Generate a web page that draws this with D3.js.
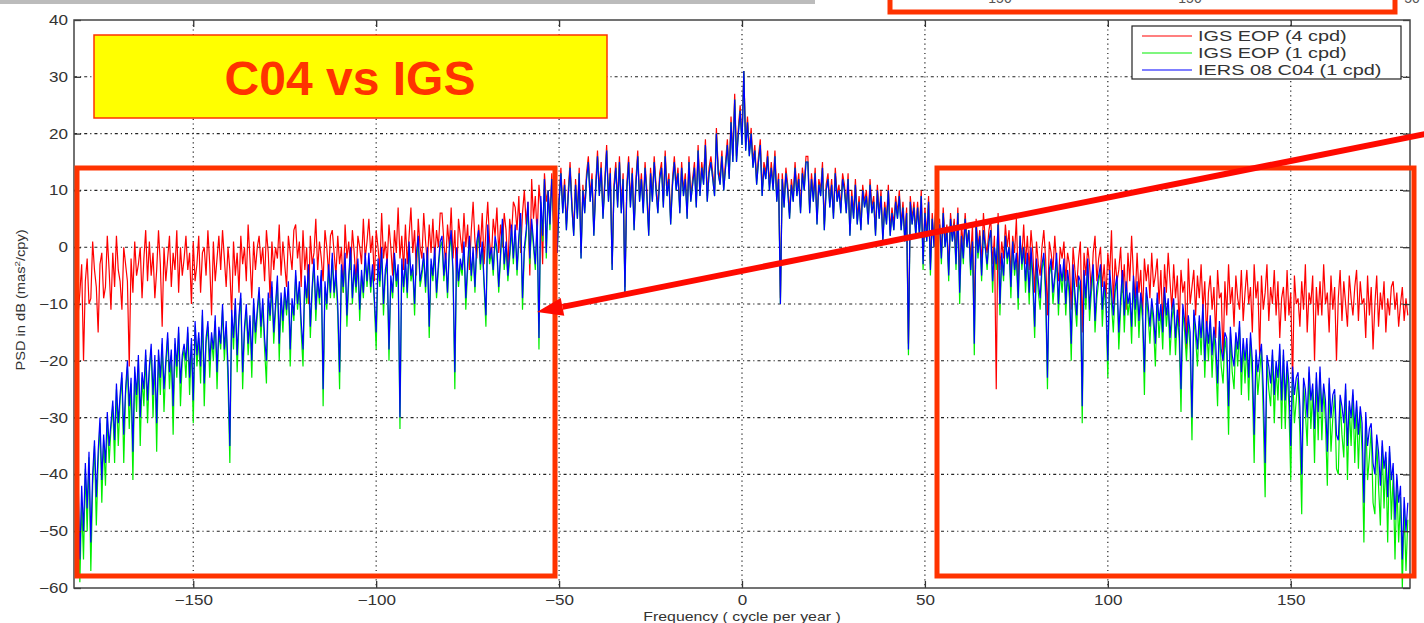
<!DOCTYPE html>
<html>
<head>
<meta charset="utf-8">
<script src="https://cdn.jsdelivr.net/npm/d3@7"></script>
<style>
  body { margin: 0; background: #fff; }
  svg { display: block; }
  text { font-family: "Liberation Sans", Arial, sans-serif; }
</style>
</head>
<body>
<svg id="chart"></svg>
<script>
// PSD spectra, one value every 0.5 cpy from -182 cpy
const freqStart = -182;
const freqStep = 0.5;

// IGS EOP (4 cpd) - red
const igs4 = [
  -5,-12,-8,-3,-20,-6,-2,-10,-9,1,-4,-7,-15,-3,-1,-9,-7,2,-4,-11,
  -1,-7,2,-4,-6,-11,0,-3,-6,-21,-2,-8,1,-5,-3,0,-9,-2,3,-6,
  1,-5,-1,-9,-4,3,-3,-14,0,-6,-2,2,-7,-1,-4,3,-8,0,-5,-2,
  2,-4,-1,-10,1,-6,-3,2,-8,-1,0,-5,3,-3,-12,1,-6,-2,2,-4,
  3,-2,-7,0,-4,-12,1,-5,-1,-8,2,-3,0,-6,4,-2,-9,1,-4,0,
  2,-3,0,-6,3,-1,-9,1,-4,0,-2,4,-5,1,-3,-7,2,-1,-4,3,
  4,-2,1,-7,3,-4,0,-10,2,-3,-1,5,-4,1,-2,-6,3,0,-5,2,
  3,-1,-5,2,-3,0,-8,4,-2,1,-4,3,-1,-6,2,0,-3,5,-2,1,
  5,-1,2,-6,3,0,-4,6,-2,1,-3,4,0,-5,3,-1,7,-2,2,-4,
  4,-3,2,7,-1,3,-5,5,0,-2,6,1,-3,4,-1,5,-2,3,0,6,
  6,1,-3,4,0,7,-2,3,-6,5,2,-1,6,0,4,-4,3,8,1,-2,
  4,0,6,-3,3,8,1,-2,5,2,7,-1,4,0,6,3,-4,5,2,8,
  7,3,9,-1,6,10,4,8,-5,12,5,9,2,11,7,-3,13,8,10,5,
  13,5,11,1,9,14,7,12,4,10,15,8,3,12,6,14,-1,11,7,13,
  16,9,13,3,11,17,10,15,6,12,18,9,14,-3,11,15,8,16,7,13,
  -7,11,16,8,14,4,12,17,9,13,7,15,10,3,14,9,16,11,7,13,
  15,8,17,10,13,5,12,16,11,14,7,15,10,13,6,16,9,12,15,8,
  18,10,15,12,19,9,14,16,13,10,21,14,12,17,11,15,19,13,23,16,
  27,16,21,25,19,31,18,23,17,21,15,18,12,16,19,10,15,13,17,11,
  15,11,17,9,13,-9,13,8,14,11,6,12,9,15,10,13,7,14,11,16,
  16,7,13,9,14,5,12,10,15,4,11,13,8,12,6,14,9,11,7,13,
  11,7,13,3,10,6,12,5,9,4,11,8,10,5,12,7,9,3,11,6,
  10,2,8,5,11,3,7,4,9,6,10,4,8,2,7,-17,9,5,8,3,
  8,3,10,-2,7,2,9,-3,6,1,8,4,5,-1,7,1,4,-4,6,2,
  5,-1,7,-5,4,0,6,1,3,-2,4,-12,5,0,3,-3,6,1,-1,3,
  5,-3,2,-25,6,-4,1,-2,4,0,3,-5,2,-1,5,-6,1,-2,4,-3,
  2,-4,3,-1,-8,1,-3,-5,0,3,-2,-12,1,-1,-4,2,-3,-6,0,-2,
  1,-6,-1,-3,-11,0,-4,-7,-2,1,-15,-1,-5,0,-3,-8,-1,2,-6,-2,
  0,-7,-3,-9,-1,-5,3,-10,-2,-6,-4,0,-8,-3,-11,-1,-6,2,-5,-9,
  -1,-8,-4,-12,-2,-6,-3,-9,-1,-7,-5,-2,-10,-4,-14,-3,-8,-1,-6,-11,
  -3,-9,-5,-14,-4,-8,-6,-18,-2,-10,-7,-4,-12,-5,-9,-3,-11,-6,-16,-8,
  -5,-11,-7,-16,-4,-9,-8,-20,-6,-12,-3,-10,-7,-14,-5,-9,-11,-4,-13,-8,
  -4,-10,-7,-15,-3,-9,-6,-19,-5,-11,-8,-3,-13,-7,-10,-4,-12,-6,-16,-9,
  -7,-13,-4,-12,-8,-24,-5,-10,-9,-14,-6,-11,-3,-15,-8,-10,-5,-20,-7,-12,
  -6,-12,-3,-10,-8,-15,-5,-11,-7,-20,-9,-4,-13,-6,-10,-14,-5,-9,-12,-7,
  -4,-13,-6,-10,-9,-16,-5,-12,-7,-18,-10,-5,-14,-8,-11,-6,-15,-9,-12,-7,
  -6,-11,-8,-14,-10,-7,-13,-9,-12
];

// IGS EOP (1 cpd) - green (hidden under blue except the deeper dips)
const igs1 = [
  -51,-41,-59,-45,-55,-39,-50,-37,-57,-42,-35,-49,-38,-31,-45,-34,-42,-30,-38,-32,
  -28,-38,-25,-35,-27,-23,-38,-26,-21,-32,-24,-41,-22,-29,-20,-35,-23,-28,-19,-31,
  -22,-18,-30,-20,-36,-19,-26,-17,-29,-21,-16,-25,-19,-33,-17,-23,-15,-28,-20,-18,
  -23,-15,-26,-17,-31,-14,-21,-16,-24,-12,-28,-17,-14,-23,-16,-20,-13,-25,-15,-18,
  -11,-20,-14,-24,-38,-12,-18,-10,-22,-13,-9,-25,-15,-11,-19,-13,-23,-10,-17,-12,
  -8,-16,-10,-18,-24,-9,-13,-7,-17,-11,-6,-20,-9,-15,-8,-12,-7,-21,-10,-13,
  -5,-11,-7,-15,-21,-6,-10,-4,-16,-8,-3,-13,-6,-10,-5,-28,-7,-11,-4,-9,
  -2,-9,-5,-12,-25,-4,-8,-2,-14,-6,-1,-10,-4,-8,-3,-13,-5,-9,-2,-7,
  -2,-8,-4,-10,-18,-3,-7,-1,-12,-5,-3,-20,-6,-9,-2,-7,-4,-32,-3,-8,
  -3,-9,0,-6,-4,-12,-2,1,-7,-5,-2,-8,-1,-16,-3,-6,-1,-9,-4,0,
  1,-6,-2,-9,-1,2,-5,-25,-1,-7,-3,-5,0,-11,-4,1,-6,-1,-8,0,
  2,-4,0,-7,-14,3,-3,-1,-5,1,-1,-8,-2,4,-4,0,-6,-2,3,-3,
  3,-5,1,5,-11,-1,2,7,-3,4,0,-4,4,-18,8,1,12,-2,10,3,
  12,4,10,-1,8,13,6,11,3,9,14,7,2,11,5,13,-2,10,6,12,
  15,8,12,2,10,16,9,14,5,11,17,8,13,-4,10,14,7,15,6,12,
  -8,10,15,7,13,3,11,16,8,12,6,14,9,2,13,8,15,10,6,12,
  14,7,16,9,12,4,11,15,10,13,6,14,9,12,5,15,8,11,14,7,
  17,9,14,11,18,8,13,15,12,9,20,13,11,16,10,14,18,12,22,15,
  26,15,20,24,18,31,17,22,16,20,14,17,11,15,18,9,14,12,16,10,
  14,10,16,8,12,-10,12,7,13,10,5,11,8,14,9,12,6,13,10,15,
  15,6,12,8,13,4,11,9,14,3,10,12,7,11,5,13,8,10,6,12,
  10,6,12,2,9,5,11,4,8,3,10,7,9,4,11,6,8,2,10,5,
  9,1,7,4,10,2,6,3,8,5,9,3,7,1,6,-19,8,4,7,2,
  7,2,9,-4,6,1,8,-5,5,0,7,3,4,-3,6,0,3,-6,5,1,
  4,-4,6,-10,2,-3,5,0,3,-5,1,-19,4,-2,2,-6,3,0,-4,1,
  3,-8,0,-4,4,-12,-2,-6,2,-3,0,-9,1,-5,-2,-11,2,-4,0,-8,
  -2,-10,-1,-7,-16,-3,-8,-11,-4,-2,-9,-25,-5,-3,-10,-6,-2,-12,-4,-8,
  -3,-12,-5,-9,-20,-4,-10,-14,-6,-8,-31,-5,-11,-3,-13,-8,-4,-15,-9,-6,
  -4,-14,-7,-11,-23,-5,-10,-15,-8,-6,-18,-11,-5,-15,-7,-12,-9,-17,-6,-14,
  -7,-16,-9,-13,-26,-8,-12,-17,-10,-14,-21,-9,-16,-11,-18,-8,-14,-10,-19,-13,
  -10,-19,-12,-16,-29,-11,-15,-20,-13,-18,-34,-12,-16,-21,-13,-19,-11,-23,-14,-20,
  -13,-23,-15,-20,-28,-14,-21,-24,-16,-19,-33,-15,-22,-25,-16,-21,-14,-26,-17,-24,
  -17,-27,-16,-24,-38,-19,-26,-22,-18,-30,-44,-20,-25,-28,-19,-31,-21,-27,-18,-32,
  -19,-32,-21,-28,-41,-22,-31,-27,-23,-33,-47,-24,-29,-35,-22,-32,-25,-38,-23,-34,
  -22,-34,-25,-31,-42,-24,-36,-30,-26,-39,-40,-27,-33,-37,-25,-41,-28,-35,-26,-38,
  -28,-39,-29,-36,-52,-30,-41,-37,-32,-45,-47,-34,-42,-49,-35,-46,-37,-52,-36,-48,
  -40,-55,-41,-52,-44,-60,-46,-57,-48
];

// IERS 08 C04 (1 cpd) - blue
const c04 = [
  -48,-40,-55,-42,-50,-38,-46,-36,-52,-40,-34,-44,-36,-30,-41,-33,-38,-29,-35,-31,
  -27,-34,-24,-31,-26,-22,-33,-25,-20,-28,-23,-36,-21,-26,-19,-30,-22,-25,-18,-27,
  -21,-17,-26,-19,-31,-18,-23,-16,-25,-20,-15,-22,-18,-28,-16,-21,-14,-24,-19,-17,
  -20,-14,-23,-16,-27,-13,-19,-15,-21,-11,-24,-16,-13,-20,-15,-18,-12,-22,-14,-17,
  -10,-18,-13,-21,-35,-11,-16,-9,-19,-12,-8,-22,-14,-10,-17,-12,-20,-9,-15,-11,
  -7,-14,-9,-16,-20,-8,-12,-6,-15,-10,-5,-17,-8,-13,-7,-11,-6,-18,-9,-12,
  -4,-10,-6,-13,-18,-5,-9,-3,-14,-7,-2,-11,-5,-9,-4,-25,-6,-10,-3,-8,
  -1,-8,-4,-10,-22,-3,-7,-1,-12,-5,0,-9,-3,-7,-2,-11,-4,-8,-1,-6,
  -1,-7,-3,-9,-15,-2,-6,0,-10,-4,-2,-18,-5,-8,-1,-6,-3,-30,-2,-7,
  -2,-8,1,-5,-3,-10,-1,2,-6,-4,-1,-7,0,-14,-2,-5,0,-8,-3,1,
  2,-5,-1,-8,0,3,-4,-22,0,-6,-2,-4,1,-9,-3,2,-5,0,-7,1,
  3,-3,1,-6,-12,4,-2,0,-4,2,0,-7,-1,5,-3,1,-5,-1,4,-2,
  4,-4,2,6,-9,0,3,8,-2,5,1,-3,5,-16,9,2,12,-1,10,4,
  12,4,10,-1,8,13,6,11,3,9,14,7,2,11,5,13,-2,10,6,12,
  15,8,12,2,10,16,9,14,5,11,17,8,13,-4,10,14,7,15,6,12,
  -8,10,15,7,13,3,11,16,8,12,6,14,9,2,13,8,15,10,6,12,
  14,7,16,9,12,4,11,15,10,13,6,14,9,12,5,15,8,11,14,7,
  17,9,14,11,18,8,13,15,12,9,20,13,11,16,10,14,18,12,22,15,
  26,15,20,24,18,31,17,22,16,20,14,17,11,15,18,9,14,12,16,10,
  14,10,16,8,12,-10,12,7,13,10,5,11,8,14,9,12,6,13,10,15,
  15,6,12,8,13,4,11,9,14,3,10,12,7,11,5,13,8,10,6,12,
  10,6,12,2,9,5,11,4,8,3,10,7,9,4,11,6,8,2,10,5,
  9,1,7,4,10,2,6,3,8,5,9,3,7,1,6,-18,8,4,7,2,
  7,2,9,-3,6,1,8,-4,5,0,7,3,4,-2,6,0,3,-5,5,1,
  4,-3,6,-8,2,-2,5,0,3,-4,1,-17,4,-1,2,-5,3,0,-3,1,
  3,-6,0,-3,4,-10,-1,-5,2,-2,0,-7,1,-4,-1,-9,2,-3,0,-6,
  -1,-8,0,-5,-14,-2,-6,-9,-3,-1,-7,-23,-4,-2,-8,-5,-1,-10,-3,-6,
  -2,-10,-4,-7,-17,-3,-8,-12,-5,-6,-28,-4,-9,-2,-11,-6,-3,-13,-7,-5,
  -3,-11,-6,-9,-20,-4,-8,-12,-7,-5,-15,-9,-4,-12,-6,-10,-8,-14,-5,-11,
  -6,-13,-8,-11,-22,-7,-10,-14,-9,-12,-17,-8,-13,-10,-15,-7,-12,-9,-16,-11,
  -9,-16,-11,-14,-25,-10,-13,-17,-12,-15,-30,-11,-14,-18,-12,-16,-10,-20,-13,-17,
  -12,-19,-14,-17,-24,-13,-18,-20,-15,-16,-28,-14,-19,-21,-15,-18,-13,-22,-16,-20,
  -16,-23,-15,-20,-33,-18,-22,-19,-17,-25,-38,-19,-21,-24,-18,-26,-20,-23,-17,-27,
  -18,-27,-20,-24,-35,-21,-26,-23,-22,-28,-40,-23,-25,-30,-21,-27,-24,-32,-22,-29,
  -21,-29,-24,-27,-36,-23,-30,-26,-25,-33,-34,-26,-28,-31,-24,-35,-27,-30,-25,-32,
  -27,-33,-28,-31,-45,-29,-35,-32,-31,-38,-40,-33,-36,-42,-34,-39,-36,-44,-35,-41,
  -38,-48,-40,-45,-42,-55,-44,-50,-45
];

const xTicks = [-150, -100, -50, 0, 50, 100, 150];
const yTicks = [-60, -50, -40, -30, -20, -10, 0, 10, 20, 30, 40];
const seriesNames = ['IGS EOP (4 cpd)', 'IGS EOP (1 cpd)', 'IERS 08 C04 (1 cpd)'];
const seriesColors = ['#ff0000', '#00ee00', '#0000ff'];
const seriesData = [igs4, igs1, c04];

const width = 1424;
const height = 623;
const plot = { left: 74, right: 1410, top: 20, bottom: 588 };
const stretch = 1.22; // the slide squeezed the figure sideways
const accent = '#ff3300';

let svg = d3.select('#chart').attr('width', width).attr('height', height);

let scX = d3.scaleLinear().domain([-182.6, 182.6]).range([plot.left, plot.right]);
let scY = d3.scaleLinear().domain([-60, 40]).range([plot.bottom, plot.top]);

svg.append('defs').append('clipPath').attr('id', 'plotClip')
  .append('rect')
  .attr('x', plot.left).attr('y', plot.top)
  .attr('width', plot.right - plot.left).attr('height', plot.bottom - plot.top);

function drawGrid() {
  let g = svg.append('g').attr('class', 'grid');
  g.selectAll('.vgrid')
    .data(xTicks)
    .enter()
    .append('line')
    .attr('x1', d => scX(d)).attr('x2', d => scX(d))
    .attr('y1', plot.top).attr('y2', plot.bottom)
    .attr('stroke', '#222').attr('stroke-width', 1.2)
    .attr('stroke-dasharray', '1.2,3.5');
  g.selectAll('.hgrid')
    .data(yTicks.filter(d => d > -60 && d < 40))
    .enter()
    .append('line')
    .attr('x1', plot.left).attr('x2', plot.right)
    .attr('y1', d => scY(d)).attr('y2', d => scY(d))
    .attr('stroke', '#222').attr('stroke-width', 1.1)
    .attr('stroke-dasharray', '3,3,1.2,3');
}

function drawSeries() {
  let line = d3.line()
    .x((d, i) => scX(freqStart + i * freqStep))
    .y(d => scY(d));
  let g = svg.append('g').attr('clip-path', 'url(#plotClip)');
  seriesData.forEach((values, index) => {
    g.append('path')
      .datum(values)
      .attr('d', line)
      .attr('fill', 'none')
      .attr('stroke', seriesColors[index])
      .attr('stroke-width', 1.2)
      .attr('stroke-linejoin', 'miter');
  });
}

function styleAxis(g, labels) {
  g.select('.domain').remove();
  g.selectAll('.tick line').attr('stroke', '#333').attr('stroke-width', 1.3);
  if (labels) {
    g.selectAll('.tick text')
      .attr('fill', '#333')
      .style('font-size', '14px')
      .attr('transform', `scale(${stretch},1)`);
  } else {
    g.selectAll('.tick text').remove();
  }
}

function drawAxes() {
  let fmt = d3.format('');
  svg.append('g')
    .attr('transform', `translate(0, ${plot.bottom})`)
    .call(d3.axisBottom(scX).tickValues(xTicks).tickSizeInner(-7).tickSizeOuter(0).tickPadding(7).tickFormat(fmt))
    .call(g => styleAxis(g, true));
  svg.append('g')
    .attr('transform', `translate(0, ${plot.top})`)
    .call(d3.axisTop(scX).tickValues(xTicks).tickSizeInner(-7).tickSizeOuter(0))
    .call(g => styleAxis(g, false));
  svg.append('g')
    .attr('transform', `translate(${plot.left}, 0)`)
    .call(d3.axisLeft(scY).tickValues(yTicks).tickSizeInner(-7).tickSizeOuter(0).tickPadding(5).tickFormat(fmt))
    .call(g => styleAxis(g, true));
  svg.append('g')
    .attr('transform', `translate(${plot.right}, 0)`)
    .call(d3.axisRight(scY).tickValues(yTicks).tickSizeInner(-7).tickSizeOuter(0))
    .call(g => styleAxis(g, false));

  // frame
  svg.append('rect')
    .attr('x', plot.left).attr('y', plot.top)
    .attr('width', plot.right - plot.left).attr('height', plot.bottom - plot.top)
    .attr('fill', 'none').attr('stroke', '#444').attr('stroke-width', 1.5);

  svg.append('text')
    .attr('transform', `translate(${(plot.left + plot.right) / 2}, 621) scale(${stretch},1)`)
    .attr('text-anchor', 'middle')
    .attr('fill', '#333')
    .style('font-size', '13px')
    .text('Frequency ( cycle per year )');

  let yl = svg.append('text')
    .attr('transform', `translate(25, 300) rotate(-90) scale(${stretch},1)`)
    .attr('text-anchor', 'middle')
    .attr('fill', '#333')
    .style('font-size', '12px');
  yl.append('tspan').text('PSD in dB (mas');
  yl.append('tspan').attr('dy', -5).style('font-size', '8px').text('2');
  yl.append('tspan').attr('dy', 5).text('/cpy)');
}

function drawLegend() {
  let lg = svg.append('g').attr('transform', 'translate(1132, 26)');
  lg.append('rect')
    .attr('width', 269).attr('height', 53)
    .attr('fill', '#fff').attr('stroke', '#222').attr('stroke-width', 1.2);
  seriesNames.forEach((name, i) => {
    let y = 10 + i * 17;
    lg.append('line')
      .attr('x1', 10).attr('x2', 60).attr('y1', y).attr('y2', y)
      .attr('stroke', seriesColors[i]).attr('stroke-width', 1.2);
    lg.append('text')
      .attr('transform', `translate(66, ${y + 5}) scale(1.42,1)`)
      .attr('fill', '#333')
      .style('font-size', '14px')
      .text(name);
  });
}

function drawAnnotations() {
  // slide leftovers at the top edge
  svg.append('rect').attr('x', 0).attr('y', 0).attr('width', 815).attr('height', 4).attr('fill', '#bcbcbc');
  svg.append('rect')
    .attr('x', 890).attr('y', -20).attr('width', 505).attr('height', 32)
    .attr('fill', 'none').attr('stroke', accent).attr('stroke-width', 5);
  [1000, 1190].forEach(x => {
    svg.append('text').attr('x', x).attr('y', 3).attr('text-anchor', 'middle')
      .attr('fill', '#555').style('font-size', '14px').text('150');
  });
  svg.append('text').attr('x', 1412).attr('y', 3).attr('text-anchor', 'middle')
    .attr('fill', '#555').style('font-size', '14px').text('50');

  // title box
  svg.append('rect')
    .attr('x', 94).attr('y', 35).attr('width', 513).attr('height', 83)
    .attr('fill', '#ffff00').attr('stroke', accent).attr('stroke-width', 1.5);
  svg.append('text')
    .attr('x', 350).attr('y', 95)
    .attr('text-anchor', 'middle')
    .attr('fill', accent)
    .style('font-size', '48px').style('font-weight', 'bold')
    .text('C04 vs IGS');

  // highlight boxes
  [[77, 555], [937, 1414]].forEach(([x0, x1]) => {
    svg.append('rect')
      .attr('x', x0).attr('y', 168).attr('width', x1 - x0).attr('height', 408)
      .attr('fill', 'none').attr('stroke', accent).attr('stroke-width', 5);
  });

  // arrow
  let tip = [537, 312];
  let tail = [1430, 133];
  let ang = Math.atan2(tail[1] - tip[1], tail[0] - tip[0]);
  let headLen = 26, headHalf = 9;
  let base = [tip[0] + headLen * Math.cos(ang), tip[1] + headLen * Math.sin(ang)];
  svg.append('line')
    .attr('x1', tail[0]).attr('y1', tail[1]).attr('x2', base[0]).attr('y2', base[1])
    .attr('stroke', '#ff0a00').attr('stroke-width', 6);
  svg.append('polygon')
    .attr('points', [
      tip,
      [base[0] - headHalf * Math.sin(ang), base[1] + headHalf * Math.cos(ang)],
      [base[0] + headHalf * Math.sin(ang), base[1] - headHalf * Math.cos(ang)]
    ].map(p => p.join(',')).join(' '))
    .attr('fill', '#ff0a00');
}

drawGrid();
drawSeries();
drawAxes();
drawAnnotations();
drawLegend();
</script>
</body>
</html>
